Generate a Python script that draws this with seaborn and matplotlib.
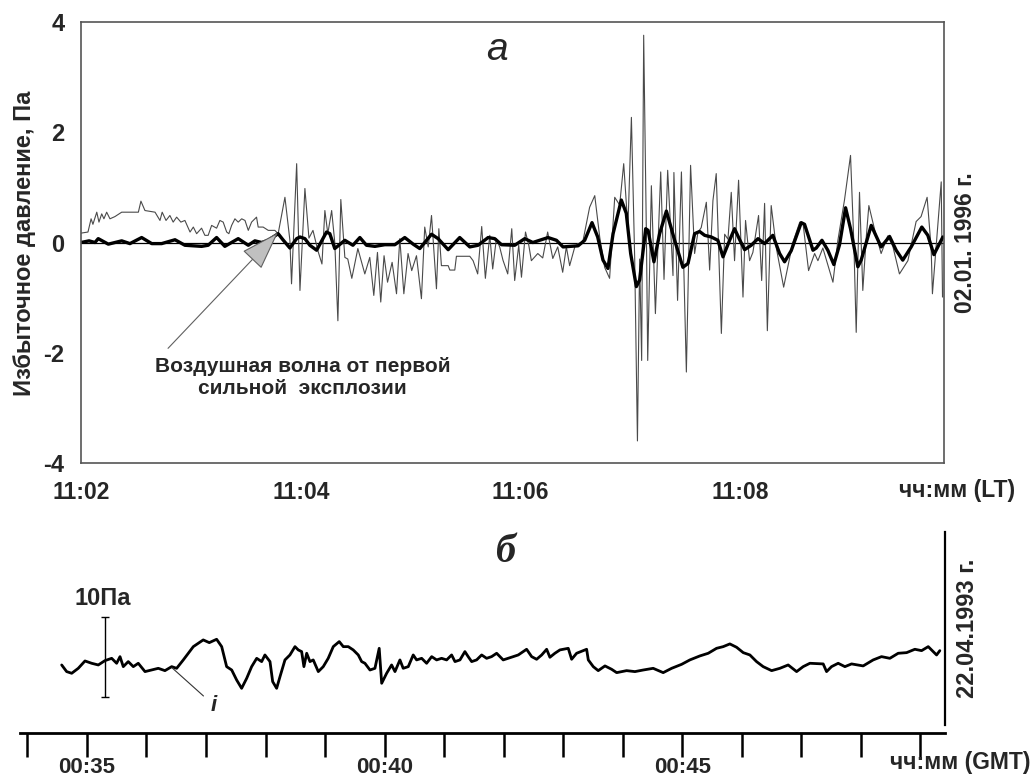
import seaborn as sns
import matplotlib.pyplot as plt

sns.set_style('white')
plt.rcParams['font.family'] = ['Liberation Sans', 'DejaVu Sans']
plt.rcParams['font.weight'] = 'bold'

# panel a: seconds after 11:02:00 LT, overpressure in Pa
raw_t = [0, 3.8, 5.5, 6.5, 8.6, 9.8, 11.3, 12.5, 14.0, 15.8,
         18.5, 22.2, 31.3, 32.7, 34.9, 40.4, 43.1, 44.3, 46.4, 48.5,
         50.3, 52.2, 54.5, 56.7, 59.5, 61.3, 63.1, 65.8, 67.6, 69.4,
         71.3, 74.0, 75.8, 77.6, 79.5, 80.7, 82.2, 84.0, 85.8, 87.7,
         89.5, 91.3, 93.1, 95.8, 96.7, 99.4, 102.2, 105.8, 107.6, 111.3,
         114.0, 114.9, 117.7, 119.5, 122.2, 124.4, 126.6, 129.3, 131.5, 133.1,
         134.7, 136.8, 138.5, 140.2, 141.8, 144.0, 145.6, 147.8, 151.1, 154.9,
         157.6, 159.8, 161.8, 163.6, 165.4, 167.3, 169.8, 172.2, 174.0, 176.2,
         178.5, 180.5, 183.1, 185.8, 187.6, 189.5, 191.3, 192.7, 194.0, 195.3,
         196.7, 200.4, 201.3, 204.0, 204.9, 212.2, 214.0, 216.5, 218.7, 220.7,
         223.1, 224.7, 226.7, 228.5, 230.3, 232.9, 235.1, 236.7, 238.9, 240.4,
         242.6, 244.4, 245.8, 249.3, 252.0, 254.7, 257.5, 260.2, 262.9, 264.9,
         266.7, 269.5, 271.3, 273.8, 277.6, 280.4, 283.1, 285.8, 288.5, 291.3,
         294.0, 296.2, 298.5, 300.4, 302.2, 303.7, 304.9, 306.0, 307.1, 308.6,
         309.3, 311.3, 313.5, 316.4, 318.2, 320.2, 323.1, 323.6, 325.6, 327.7,
         330.4, 332.7, 334.9, 336.7, 338.5, 341.3, 343.1, 344.9, 346.7, 349.5,
         351.3, 353.1, 354.9, 356.7, 358.9, 361.3, 362.7, 364.9, 366.7, 369.8,
         371.5, 373.1, 374.6, 376.7, 379.5, 383.5, 388.5, 392.3, 394.1, 397.1,
         400.4, 402.2, 404.9, 410.4, 413.1, 416.7, 420.0, 421.8, 423.1, 424.9,
         426.7, 428.6, 430.0, 433.1, 436.7, 440.3, 443.1, 446.7, 451.3, 455.8,
         458.5, 461.8, 464.0, 464.7, 466.9, 469.5, 470.2]
raw_p = [0.17, 0.19, 0.43, 0.33, 0.55, 0.37, 0.52, 0.43, 0.55, 0.43,
         0.47, 0.55, 0.55, 0.75, 0.58, 0.55, 0.40, 0.55, 0.40, 0.49,
         0.37, 0.46, 0.37, 0.40, 0.19, 0.28, 0.16, 0.26, 0.13, 0.13,
         0.31, 0.26, 0.40, 0.37, 0.19, 0.16, 0.31, 0.43, 0.37, 0.43,
         0.40, 0.22, 0.37, 0.46, 0.28, 0.28, 0.22, 0.22, 0.16, 0.82,
         0.04, -0.75, 1.43, -0.87, 0.98, 0.08, 0.22, -0.15, -0.39, 0.58,
         0.16, 0.58, 0.0, -1.42, 0.78, -0.27, -0.30, -0.65, -0.11, -0.57,
         -0.27, -0.96, -0.18, -1.08, -0.24, -0.72, -0.36, -0.93, 0.07, -0.93,
         -0.20, -0.51, -0.24, -1.02, 0.28, -0.08, 0.49, -0.20, -0.84, 0.25,
         -0.42, -0.42, -0.50, -0.50, -0.25, -0.25, -0.33, -0.57, 0.29, -0.65,
         0.13, -0.48, 0.07, -0.08, -0.32, -0.57, 0.25, -0.69, -0.05, -0.63,
         0.19, -0.05, -0.33, -0.20, -0.28, 0.19, -0.29, -0.08, -0.54, -0.08,
         -0.42, -0.08, -0.02, 0.0, 0.64, 0.85, 0.10, -0.45, -0.65, 0.82,
         0.68, 1.43, 0.27, 2.27, -0.30, -3.60, -0.30, -2.14, 3.76, 0.10,
         -2.14, 1.03, -1.29, 1.28, -0.67, 1.31, -0.60, 1.27, -1.05, 1.28,
         -2.35, 1.40, -0.20, 0.18, 0.27, 0.73, -0.50, 0.76, 1.25, -1.65,
         0.15, 0.06, 0.91, -0.33, 1.13, -0.99, 0.40, -0.33, -0.18, 0.49,
         -0.69, 0.71, -1.60, 0.67, -0.10, -0.81, 0.0, 0.37, 0.34, -0.51,
         -0.20, -0.33, -0.10, -0.72, 0.04, 0.77, 1.58, 0.0, -1.63, 0.91,
         -0.87, 0.10, 0.67, 0.24, -0.20, 0.12, -0.07, -0.57, -0.33, 0.38,
         0.47, 0.82, -0.10, -0.93, 0.0, 1.10, -0.99]

smooth_t = [0, 4.4, 7.6, 9.4, 14.9, 22.2, 26.7, 33.1, 38.6, 44.0,
            51.3, 56.7, 65.8, 69.4, 74.0, 78.5, 85.8, 91.3, 94.9, 98.6,
            102.2, 107.6, 110.2, 114.0, 117.7, 119.5, 122.2, 124.9, 128.6, 134.0,
            135.8, 138.5, 144.0, 148.4, 152.2, 155.8, 160.4, 165.8, 171.3, 176.7,
            181.3, 184.9, 191.3, 194.9, 200.4, 206.7, 212.2, 216.7, 222.2, 225.8,
            229.5, 236.7, 242.2, 246.6, 254.9, 259.5, 263.1, 271.3, 274.9, 278.9,
            282.0, 284.9, 287.6, 290.4, 294.9, 297.6, 300.0, 303.1, 304.9, 308.2,
            309.5, 312.7, 315.8, 319.5, 324.0, 328.5, 331.3, 334.9, 337.6, 340.4,
            344.0, 347.6, 350.4, 354.0, 356.7, 359.5, 362.2, 365.8, 369.5, 373.1,
            377.6, 381.3, 384.0, 387.6, 393.1, 394.9, 399.5, 401.3, 404.4, 407.6,
            410.9, 414.0, 417.3, 420.0, 424.0, 425.8, 431.3, 436.7, 441.3, 444.9,
            448.5, 453.1, 458.9, 462.2, 465.5, 470.4]
smooth_p = [0, 0.03, 0.0, 0.07, -0.03, 0.03, -0.02, 0.09, -0.02, -0.02,
            0.05, -0.05, -0.07, -0.05, 0.09, -0.07, 0.07, -0.05, 0.03, 0.0,
            0.04, 0.16, 0.05, -0.10, 0.07, 0.10, 0.07, -0.05, -0.14, 0.19,
            0.16, -0.11, 0.04, -0.05, 0.09, -0.05, -0.07, -0.04, -0.04, 0.09,
            -0.03, -0.11, 0.15, 0.07, -0.13, 0.09, -0.08, -0.05, 0.09, 0.07,
            -0.04, -0.05, 0.07, 0.0, 0.09, 0.04, -0.08, -0.06, 0.04, 0.36,
            0.10, -0.32, -0.47, 0.16, 0.77, 0.53, -0.20, -0.80, -0.68, 0.25,
            0.22, -0.35, 0.16, 0.57, 0.04, -0.45, -0.38, 0.16, 0.20, 0.13,
            0.10, 0.04, -0.26, 0.04, 0.25, 0.05, -0.13, -0.05, 0.07, -0.02,
            0.13, -0.20, -0.35, -0.15, 0.36, 0.33, -0.14, -0.10, 0.04, -0.14,
            -0.40, -0.04, 0.63, 0.25, -0.44, -0.32, 0.31, -0.08, 0.11, -0.14,
            -0.32, -0.08, 0.28, 0.13, -0.22, 0.10]

# panel b: seconds after 00:35:00 GMT, pressure in Pa (relative)
b_t = [-25.5, -20.5, -15.4, -8.8, -2.0, 4.7, 11.4, 18.1, 24.9, 29.9,
       33.3, 36.6, 41.6, 46.7, 51.7, 58.5, 65.2, 71.9, 78.6, 85.4,
       90.4, 97.1, 107.2, 117.2, 123.3, 130.7, 135.8, 140.8, 145.9, 150.9,
       155.9, 161.0, 166.0, 171.1, 176.1, 179.4, 184.5, 187.2, 191.2, 194.5,
       199.6, 204.6, 209.7, 213.0, 216.4, 218.7, 221.5, 224.8, 228.1, 233.2,
       238.2, 243.2, 248.3, 254.3, 258.4, 263.4, 268.4, 273.5, 276.9, 280.2,
       285.3, 290.3, 294.6, 297.1, 302.1, 307.1, 310.5, 315.5, 318.8, 323.9,
       328.9, 332.3, 337.4, 342.4, 347.5, 352.5, 357.5, 362.6, 367.6, 371.0,
       376.0, 381.0, 384.3, 387.8, 392.8, 397.9, 402.9, 407.9, 413.0, 419.6,
       424.7, 429.7, 434.8, 443.2, 448.3, 453.3, 458.4, 463.4, 466.7, 471.7,
       476.8, 485.2, 488.6, 493.6, 503.7, 505.4, 510.4, 515.4, 522.2, 528.9,
       534.0, 544.0, 552.4, 560.8, 570.8, 580.9, 589.4, 599.5, 607.8, 617.9,
       626.3, 634.7, 641.4, 648.1, 654.9, 661.6, 668.3, 675.0, 681.7, 690.2,
       698.5, 706.9, 715.4, 722.0, 728.8, 735.5, 742.2, 745.6, 750.6, 757.3,
       764.1, 770.8, 782.5, 792.6, 801.0, 809.4, 817.8, 826.3, 834.6, 841.4,
       848.1, 853.1, 856.5, 859.8]
b_p = [0.25, -0.58, -0.79, -0.17, 0.75, 0.46, 0.25, 0.79, 1.08, 0.46,
       1.29, 0.04, 0.67, 0.04, 0.46, -0.58, -0.38, -0.17, -0.46, 0.04,
       -0.17, 0.88, 2.54, 3.38, 3.04, 3.46, 2.54, 0.04, -0.38, -1.63,
       -2.67, -1.42, 0.04, 1.08, 0.67, 1.50, 0.67, -1.83, -2.67, -1.25,
       0.88, 1.50, 2.54, 2.13, 1.92, 0.04, 1.71, 0.67, 0.88, -0.58,
       0.04, 1.08, 2.54, 3.17, 2.54, 2.54, 2.13, 1.50, 0.67, 0.46,
       -0.38, -0.17, 2.33, -2.04, -0.79, 0.25, -0.58, 0.88, -0.17, 0.04,
       1.50, 0.88, 1.08, 0.46, 1.29, 0.88, 1.08, 0.88, 1.50, 0.67,
       0.88, 1.92, 1.29, 0.67, 0.88, 1.50, 1.08, 1.29, 1.71, 0.88,
       1.08, 1.29, 1.50, 2.21, 1.29, 0.96, 1.50, 2.21, 1.21, 1.71,
       2.13, 2.33, 0.96, 1.71, 2.21, 0.88, 0.04, -0.46, 0.13, -0.29,
       -0.71, -0.46, -0.58, -0.38, -0.17, -0.71, -0.17, 0.33, 0.88, 1.38,
       1.71, 2.33, 2.54, 2.88, 2.46, 1.79, 1.50, 0.67, 0.04, -0.46,
       -0.17, 0.25, -0.58, 0.04, 0.46, 0.42, 0.38, -0.58, 0.04, 0.46,
       0.04, 0.38, 0.13, 0.88, 1.29, 1.08, 1.71, 1.79, 2.21, 2.04,
       2.54, 1.92, 1.50, 2.04]

a_ticks = [0, 120, 240, 360]
a_labels = ['11:02', '11:04', '11:06', '11:08']
a_minor = [60, 180, 300, 420]
p_ticks = [-4, -2, 0, 2, 4]
p_labels = ['-4', '-2', '0', '2', '4']
b_ticks = list(range(-60, 841, 60))
b_labels = {0: '00:35', 300: '00:40', 600: '00:45'}

# scale bar 10 Pa and marker of wave arrival
bar_t, bar_lo, bar_hi = 18.1, -3.75, 6.25
i_t, i_p = 85.7, -0.1

fig = plt.figure(figsize=(10.32, 7.81), dpi=100)

###panel a###
ax = fig.add_axes([0.0785, 0.4072, 0.8362, 0.5646])
sns.lineplot(x=raw_t, y=raw_p, ax=ax, color='#4a4a4a', lw=0.8,
             sort=False, estimator=None)
sns.lineplot(x=smooth_t, y=smooth_p, ax=ax, color='black', lw=2.4,
             sort=False, estimator=None, solid_joinstyle='round')
ax.axhline(0, color='black', lw=0.9, zorder=1)
ax.set_xlim(0, 471)
ax.set_ylim(-4, 4)
ax.set_xticks(a_ticks)
ax.set_xticklabels(a_labels)
ax.set_xticks(a_minor, minor=True)
ax.set_yticks(p_ticks)
ax.set_yticklabels(p_labels)
ax.set_yticks([-3, -1, 1, 3], minor=True)
ax.tick_params(which='major', direction='inout', length=14, width=1,
               color='#444', labelsize=16.5, pad=6)
ax.tick_params(which='minor', direction='inout', length=8, width=1, color='#444')
ax.tick_params(axis='y', labelsize=17, pad=5)
for s in ax.spines.values():
    s.set_color('#555')
    s.set_linewidth(1.2)
ax.set_xlabel('')
ax.set_ylabel('')

ax.annotate('', xy=(107.5, 0.18), xytext=(47.5, -1.92),
            arrowprops=dict(arrowstyle='-|>,head_length=1.8,head_width=0.6',
                            mutation_scale=14, fc='#c0c0c0', ec='#606060',
                            lw=0.8, shrinkA=0, shrinkB=0))
ax.text(121, -2.45, 'Воздушная волна от первой\nсильной  эксплозии',
        ha='center', va='center', fontsize=15, linespacing=1.2)

###panel b###
ax2 = fig.add_axes([0.0194, 0.0615, 0.8963, 0.2574])
sns.lineplot(x=b_t, y=b_p, ax=ax2, color='black', lw=2.0,
             sort=False, estimator=None)
ax2.set_xlim(-67.5, 865)
ax2.set_ylim(-8.25, 16.875)
ax2.set_xticks(b_ticks)
ax2.set_xticklabels([b_labels.get(t, '') for t in b_ticks])
ax2.set_yticks([])
ax2.tick_params(axis='x', direction='out', length=17, width=1.8,
                color='black', labelsize=16, pad=0, bottom=True)
ax2.spines['left'].set_visible(False)
ax2.spines['top'].set_visible(False)
ax2.spines['bottom'].set_color('black')
ax2.spines['bottom'].set_linewidth(2)
ax2.spines['right'].set_color('black')
ax2.spines['right'].set_linewidth(1.6)
ax2.spines['right'].set_bounds(-7.2, 16.875)
ax2.set_xlabel('')
ax2.set_ylabel('')

ax2.errorbar(x=[bar_t], y=[(bar_lo + bar_hi) / 2], yerr=[(bar_hi - bar_lo) / 2],
             fmt='none', ecolor='black', elinewidth=1, capsize=3, capthick=1)
ax2.text(16, 8.6, '10Па', ha='center', va='center', fontsize=17)
ax2.annotate('i', xy=(i_t, i_p), xytext=(128, -4.8),
             ha='center', va='center', fontsize=16, style='italic',
             arrowprops=dict(arrowstyle='-', lw=0.8, color='#333',
                             shrinkA=4, shrinkB=0))

#labels around the panels
fig.text(25 / 1032, 1 - 243 / 781, 'Избыточное давление, Па', rotation=90,
         ha='center', va='center', fontsize=17)
fig.text(497 / 1032, 1 - 50 / 781, 'а', ha='center', va='center',
         fontsize=28, style='italic', weight='normal')
fig.text(505 / 1032, 1 - 552 / 781, 'б', ha='center', va='center',
         fontsize=29, style='italic', family='Liberation Serif')
fig.text(966 / 1032, 1 - 243 / 781, '02.01. 1996 г.', rotation=90,
         ha='center', va='center', fontsize=16.5)
fig.text(967 / 1032, 1 - 628 / 781, '22.04.1993 г.', rotation=90,
         ha='center', va='center', fontsize=17)
fig.text(1015 / 1032, 1 - 490 / 781, 'чч:мм (LT)', ha='right', va='center',
         fontsize=16.5)
fig.text(1030 / 1032, 1 - 763 / 781, 'чч:мм (GMT)', ha='right', va='center',
         fontsize=16.5)

fig.savefig('out.png', dpi=100)
